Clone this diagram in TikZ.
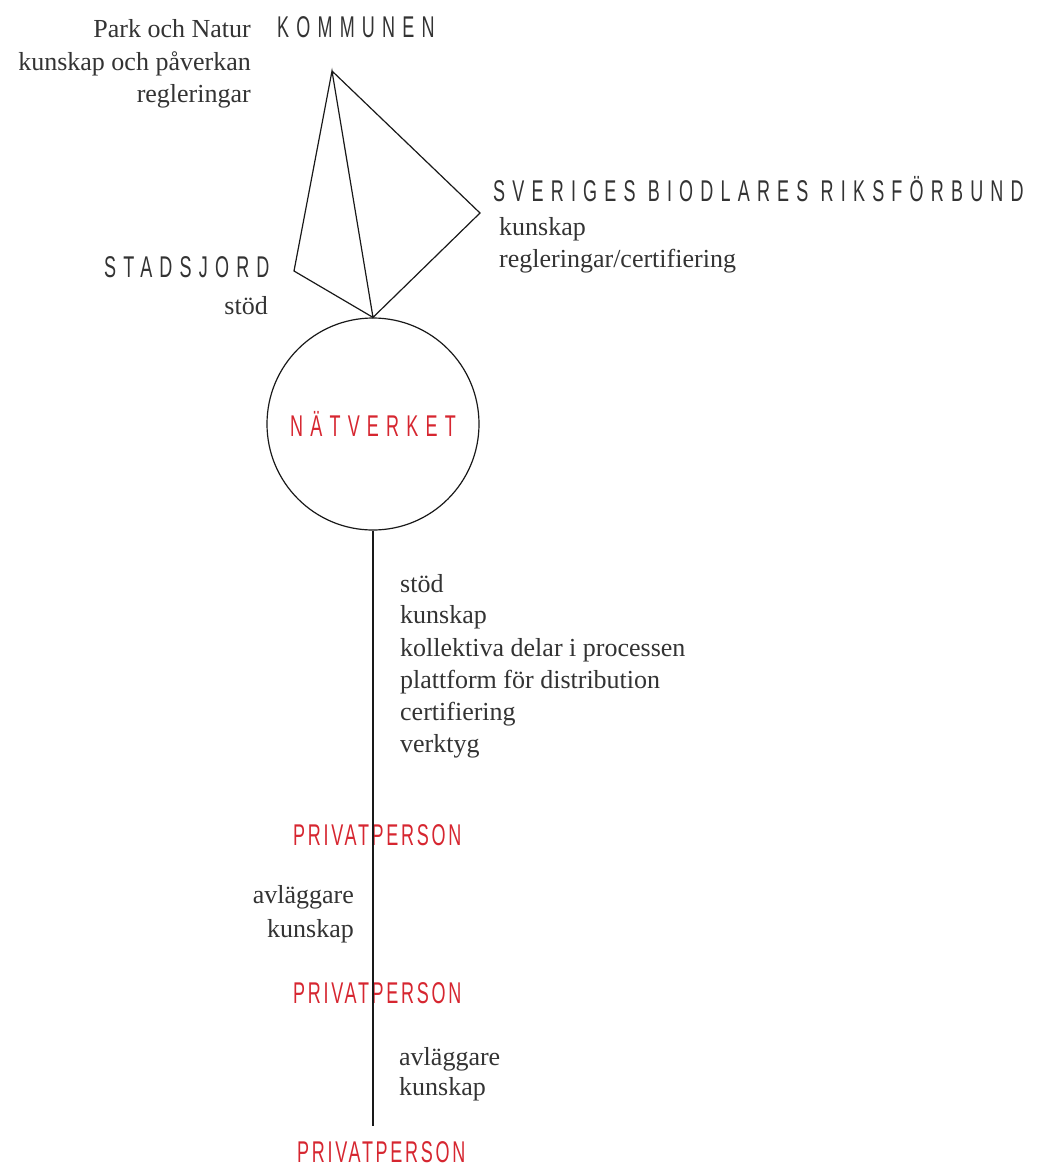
\documentclass[tikz,border=0pt]{standalone}
\usepackage{fontspec}
\setmainfont{Liberation Serif}
\newfontfamily\condfont[FakeStretch=0.6,LetterSpace=24]{Liberation Sans}
\newfontfamily\condtight[FakeStretch=0.6,LetterSpace=9]{Liberation Sans}
\definecolor{txt}{HTML}{333333}
\definecolor{netred}{RGB}{214,38,48}
\begin{document}
\begin{tikzpicture}[x=1pt,y=-1pt,
  lab/.style={inner sep=0pt, font=\condfont\fontsize{30}{30}\selectfont, text=txt},
  redlab/.style={lab, text=netred},
  perslab/.style={inner sep=0pt, font=\condtight\fontsize{30}{30}\selectfont, text=netred},
  body/.style={inner sep=0pt, font=\fontsize{26}{32}\selectfont, text=txt},
  edge/.style={line width=1.2pt, draw=black!90, line join=miter}]
\useasboundingbox (0,0) rectangle (1045,1168);

% nodes
\node[circle, draw=black!90, line width=1.2pt, minimum size=212pt, inner sep=0pt, redlab] (net) at (373,424) {NÄTVERKET};
\coordinate (K) at (332,71);
\coordinate (S) at (294,271);
\coordinate (R) at (480,213);
\coordinate (E) at (373,1126);

\node[lab, anchor=base west] (kommunen) at (277,37) {KOMMUNEN};
\node[body, anchor=base east] (k1) at (251,37) {Park och Natur};
\node[body, anchor=base east] (k2) at (251,70) {kunskap och påverkan};
\node[body, anchor=base east] (k3) at (251,102) {regleringar};

\node[lab, anchor=base west] (sbr) at (493,201) {SVERIGES BIODLARES RIKSFÖRBUND};
\node[body, anchor=base west] (s1) at (499,235) {kunskap};
\node[body, anchor=base west] (s2) at (499,267) {regleringar/certifiering};

\node[lab, anchor=base west] (stadsjord) at (104,277) {STADSJORD};
\node[body, anchor=base east] (st1) at (268,314) {stöd};

\node[body, anchor=base west] (n1) at (400,592) {stöd};
\node[body, anchor=base west] (n2) at (400,623) {kunskap};
\node[body, anchor=base west] (n3) at (400,656) {kollektiva delar i processen};
\node[body, anchor=base west] (n4) at (400,688) {plattform för distribution};
\node[body, anchor=base west] (n5) at (400,720) {certifiering};
\node[body, anchor=base west] (n6) at (400,752) {verktyg};

\node[perslab, anchor=base west] (p1) at (293,845) {PRIVATPERSON};
\node[body, anchor=base east] (a1) at (354,903) {avläggare};
\node[body, anchor=base east] (a2) at (354,937) {kunskap};
\node[perslab, anchor=base west] (p2) at (293,1003) {PRIVATPERSON};
\node[body, anchor=base west] (b1) at (399,1065) {avläggare};
\node[body, anchor=base west] (b2) at (399,1095) {kunskap};
\node[perslab, anchor=base west] (p3) at (297,1162) {PRIVATPERSON};

% connectors
\draw[edge] (net.north) -- (S) -- (K) -- (net.north) -- (R) -- (K);
\draw[edge] (net.south) -- (E);
\end{tikzpicture}
\end{document}
